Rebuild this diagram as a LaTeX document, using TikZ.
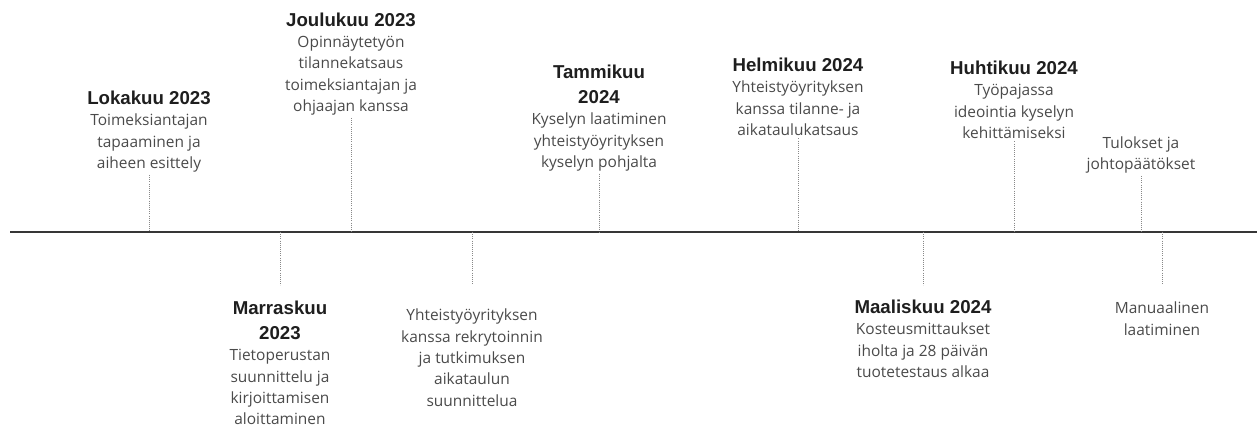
\documentclass[tikz,border=0pt]{standalone}
\usepackage{fontspec}
\setmainfont{Open Sans}
\newfontfamily\headfont{Liberation Sans}
\usepackage{tikz}
\usetikzlibrary{positioning}

\definecolor{headcol}{HTML}{1E1E1E}
\definecolor{bodycol}{HTML}{4A4A4A}
\definecolor{axiscol}{HTML}{363636}
\definecolor{tickcol}{HTML}{888888}

\newcommand{\hd}[1]{{\headfont\bfseries\fontsize{14}{16}\selectfont\color{headcol}#1}}

\begin{document}
\begin{tikzpicture}[x=0.75pt, y=-0.75pt,
	event/.style={align=center, text=bodycol, inner sep=2pt, font=\fontsize{11.6}{16}\selectfont},
	up/.style={event, anchor=south},
	down/.style={event, anchor=north},
	tick/.style={draw=tickcol, line width=0.6pt, densely dotted}]
	\useasboundingbox (0,0) rectangle (1257,427);

	% time axis
	\draw[axiscol, line width=1.5pt] (10,232) -- (1257,232);
	\coordinate (t_1) at (149,232);
	\coordinate (t_2) at (280,232);
	\coordinate (t_3) at (351,232);
	\coordinate (t_4) at (472,232);
	\coordinate (t_5) at (599,232);
	\coordinate (t_6) at (798,232);
	\coordinate (t_7) at (923,232);
	\coordinate (t_8) at (1014,232);
	\coordinate (t_9) at (1141,232);
	\coordinate (t_10) at (1162,232);

	% events above the axis
	\node[up](e_1) at (149,175) {\hd{Lokakuu 2023}\\Toimeksiantajan\\tapaaminen ja\\aiheen esittely};
	\node[up](e_3) at (351,118) {\hd{Joulukuu 2023}\\Opinnäytetyön\\tilannekatsaus\\toimeksiantajan ja\\ohjaajan kanssa};
	\node[up](e_5) at (599,174) {\hd{Tammikuu}\\[2.75pt]\hd{2024}\\Kyselyn laatiminen\\yhteistyöyrityksen\\kyselyn pohjalta};
	\node[up](e_6) at (798,138.5) {\hd{Helmikuu 2024}\\Yhteistyöyrityksen\\kanssa tilanne- ja\\aikataulukatsaus};
	\node[up](e_8) at (1014,141.5) {\hd{Huhtikuu 2024}\\Työpajassa\\ideointia kyselyn\\kehittämiseksi};
	\node[up](e_9) at (1141,176) {Tulokset ja\\johtopäätökset};

	% events below the axis
	\node[down](e_2) at (280,298) {\hd{Marraskuu}\\[2.75pt]\hd{2023}\\Tietoperustan\\suunnittelu ja\\kirjoittamisen\\aloittaminen};
	\node[down](e_4) at (472,306) {Yhteistyöyrityksen\\kanssa rekrytoinnin\\ja tutkimuksen\\aikataulun\\suunnittelua};
	\node[down](e_7) at (923,297) {\hd{Maaliskuu 2024}\\Kosteusmittaukset\\iholta ja 28 päivän\\tuotetestaus alkaa};
	\node[down](e_10) at (1162,299) {Manuaalinen\\laatiminen};

	% ticks
	\draw[tick] (e_1) -- (t_1);
	\draw[tick] (e_3) -- (t_3);
	\draw[tick] (e_5) -- (t_5);
	\draw[tick] (e_6) -- (t_6);
	\draw[tick] (e_8) -- (t_8);
	\draw[tick] (e_9) -- (t_9);
	\draw[tick, shorten >=9.5pt] (t_2) -- (e_2);
	\draw[tick, shorten >=15.75pt] (t_4) -- (e_4);
	\draw[tick, shorten >=8.75pt] (t_7) -- (e_7);
	\draw[tick, shorten >=10.5pt] (t_10) -- (e_10);
\end{tikzpicture}
\end{document}
